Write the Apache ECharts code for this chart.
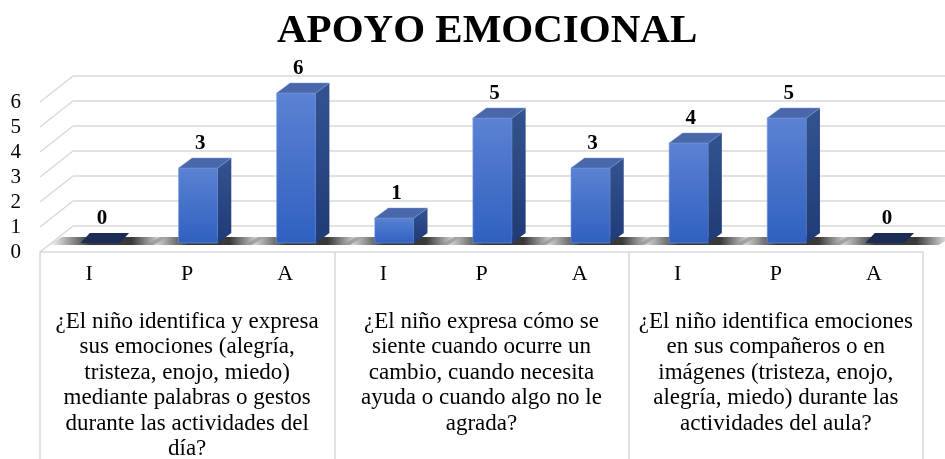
<!DOCTYPE html>
<html>
<head>
<meta charset="utf-8">
<script src="https://cdn.jsdelivr.net/npm/echarts@6/dist/echarts.min.js"></script>
<style>
  html, body { margin: 0; padding: 0; background: #fff; }
  #chart { width: 945px; height: 459px; }
</style>
</head>
<body>
<div id="chart"></div>
<script>
// datos del gráfico
const titleText = 'APOYO EMOCIONAL';
const levels = ['I', 'P', 'A'];
const questions = [
  '¿El niño identifica y expresa\nsus emociones (alegría,\ntristeza, enojo, miedo)\nmediante palabras o gestos\ndurante las actividades del\ndía?',
  '¿El niño expresa cómo se\nsiente cuando ocurre un\ncambio, cuando necesita\nayuda o cuando algo no le\nagrada?',
  '¿El niño identifica emociones\nen sus compañeros o en\nimágenes (tristeza, enojo,\nalegría, miedo) durante las\nactividades del aula?'
];
const values = [0, 3, 6, 1, 5, 3, 4, 5, 0];
const yTicks = [0, 1, 2, 3, 4, 5, 6];

const categories = [];
questions.forEach(() => levels.forEach(l => categories.push(l)));

const SERIF = '"Liberation Serif", "Times New Roman", serif';
const GRID_COLOR = '#d9d9d9';
// efecto 3D (desplazamientos en pixeles)
const WALL_DX = 33, WALL_DY = -26;
const BAR_OX = 11, BAR_OY = -9;
const BAR_DX = 13.5, BAR_DY = -10;

const chart = echarts.init(document.getElementById('chart'));

function renderDiag(params, api) {
  const cs = params.coordSys;
  const p = api.coord([0, api.value(1)]);
  return {
    type: 'line',
    shape: { x1: cs.x, y1: p[1], x2: cs.x + WALL_DX, y2: p[1] + WALL_DY },
    style: { stroke: GRID_COLOR, lineWidth: 1.5 }
  };
}

function renderShadow(params, api) {
  const idx = api.value(0);
  const base = api.coord([idx, 0]);
  const w = api.size([1, 0])[0] * 0.4;
  const x0 = base[0] - w / 2 + BAR_OX;
  const x1 = x0 + w;
  const yb = base[1] + BAR_OY + 2;
  const l = x0 - 32, r = x1 + 34;
  return {
    type: 'polygon',
    shape: { points: [[l, yb], [r, yb], [r + BAR_DX, yb + BAR_DY + 2], [l + BAR_DX, yb + BAR_DY + 2]] },
    style: {
      fill: new echarts.graphic.LinearGradient(0, 0, 1, 0, [
        { offset: 0, color: 'rgba(40,40,40,0)' },
        { offset: 0.35, color: 'rgba(35,35,35,0.9)' },
        { offset: 0.7, color: 'rgba(35,35,35,0.9)' },
        { offset: 1, color: 'rgba(40,40,40,0)' }
      ])
    }
  };
}

function renderBar(params, api) {
  const idx = api.value(0), v = api.value(1);
  const base = api.coord([idx, 0]);
  const top = api.coord([idx, v]);
  const w = api.size([1, 0])[0] * 0.4;
  const x0 = base[0] - w / 2 + BAR_OX;
  const x1 = x0 + w;
  const yb = base[1] + BAR_OY;
  const yt = top[1] + BAR_OY;
  const children = [];
  if (v > 0) {
    children.push({
      type: 'polygon',
      shape: { points: [[x0, yt], [x1, yt], [x1, yb], [x0, yb]] },
      style: {
        fill: new echarts.graphic.LinearGradient(0, 0, 0, 1, [
          { offset: 0, color: '#5b82d3' },
          { offset: 1, color: '#3060c0' }
        ]),
        stroke: 'rgba(120,155,225,0.7)', lineWidth: 0.8
      }
    });
    children.push({
      type: 'polygon',
      shape: { points: [[x1, yt], [x1 + BAR_DX, yt + BAR_DY], [x1 + BAR_DX, yb + BAR_DY], [x1, yb]] },
      style: {
        fill: new echarts.graphic.LinearGradient(0, 0, 0, 1, [
          { offset: 0, color: '#33538f' },
          { offset: 1, color: '#1f3b78' }
        ])
      }
    });
    children.push({
      type: 'polygon',
      shape: { points: [[x0, yt], [x1, yt], [x1 + BAR_DX, yt + BAR_DY], [x0 + BAR_DX, yt + BAR_DY]] },
      style: { fill: '#4a67aa', stroke: 'rgba(120,155,225,0.6)', lineWidth: 0.8 }
    });
  } else {
    children.push({
      type: 'polygon',
      shape: { points: [[x0, yb], [x1, yb], [x1 + BAR_DX * 0.7, yb + BAR_DY], [x0 + BAR_DX * 0.7, yb + BAR_DY]] },
      style: { fill: '#1b2d57' }
    });
  }
  children.push({
    type: 'text',
    style: {
      text: String(v),
      x: (x0 + x1) / 2 + 2,
      y: yt + BAR_DY - 4,
      align: 'center',
      verticalAlign: 'bottom',
      font: 'bold 21px ' + SERIF,
      fill: '#000'
    }
  });
  return { type: 'group', children: children };
}

chart.setOption({
  animation: false,
  backgroundColor: '#fff',
  title: {
    text: titleText,
    left: 272,
    top: 6,
    textStyle: { fontFamily: SERIF, fontWeight: 'bold', fontSize: 41, color: '#000' }
  },
  grid: [
    { left: 40, right: 22, top: 102, bottom: 207, outerBoundsMode: 'none', containLabel: false },
    { left: 73, right: 0, top: 76, bottom: 233, outerBoundsMode: 'none', containLabel: false }
  ],
  xAxis: [
    {
      gridIndex: 0, type: 'category', data: categories, position: 'bottom',
      axisLine: { lineStyle: { color: GRID_COLOR, width: 1.5 } },
      axisTick: { show: false },
      axisLabel: { margin: 11, fontFamily: SERIF, fontSize: 22, color: '#000' }
    },
    {
      gridIndex: 0, type: 'category', data: questions, position: 'bottom',
      axisLine: { show: false },
      axisTick: { show: true, length: 210, interval: 0, lineStyle: { color: GRID_COLOR, width: 1.5 } },
      axisLabel: { margin: 57, interval: 0, fontFamily: SERIF, fontSize: 23, lineHeight: 25.5, color: '#000' }
    },
    { gridIndex: 1, type: 'category', data: categories, show: false }
  ],
  yAxis: [
    {
      gridIndex: 0, type: 'value', min: 0, max: 6, interval: 1,
      axisLine: { show: false }, axisTick: { show: false }, splitLine: { show: false },
      axisLabel: { margin: 19, fontFamily: SERIF, fontSize: 21, color: '#000' }
    },
    {
      gridIndex: 1, type: 'value', min: 0, max: 6, interval: 1,
      axisLine: { show: false }, axisTick: { show: false }, axisLabel: { show: false },
      splitLine: { lineStyle: { color: GRID_COLOR, width: 1.5 } }
    }
  ],
  series: [
    {
      type: 'custom', xAxisIndex: 0, yAxisIndex: 0, clip: false, silent: true,
      renderItem: renderDiag,
      data: yTicks.map(t => [0, t])
    },
    {
      type: 'custom', xAxisIndex: 0, yAxisIndex: 0, clip: false, silent: true,
      renderItem: renderShadow,
      data: values.map((v, i) => [i, v])
    },
    {
      type: 'custom', xAxisIndex: 0, yAxisIndex: 0, clip: false,
      renderItem: renderBar,
      data: values.map((v, i) => [i, v])
    }
  ]
});
</script>
</body>
</html>
